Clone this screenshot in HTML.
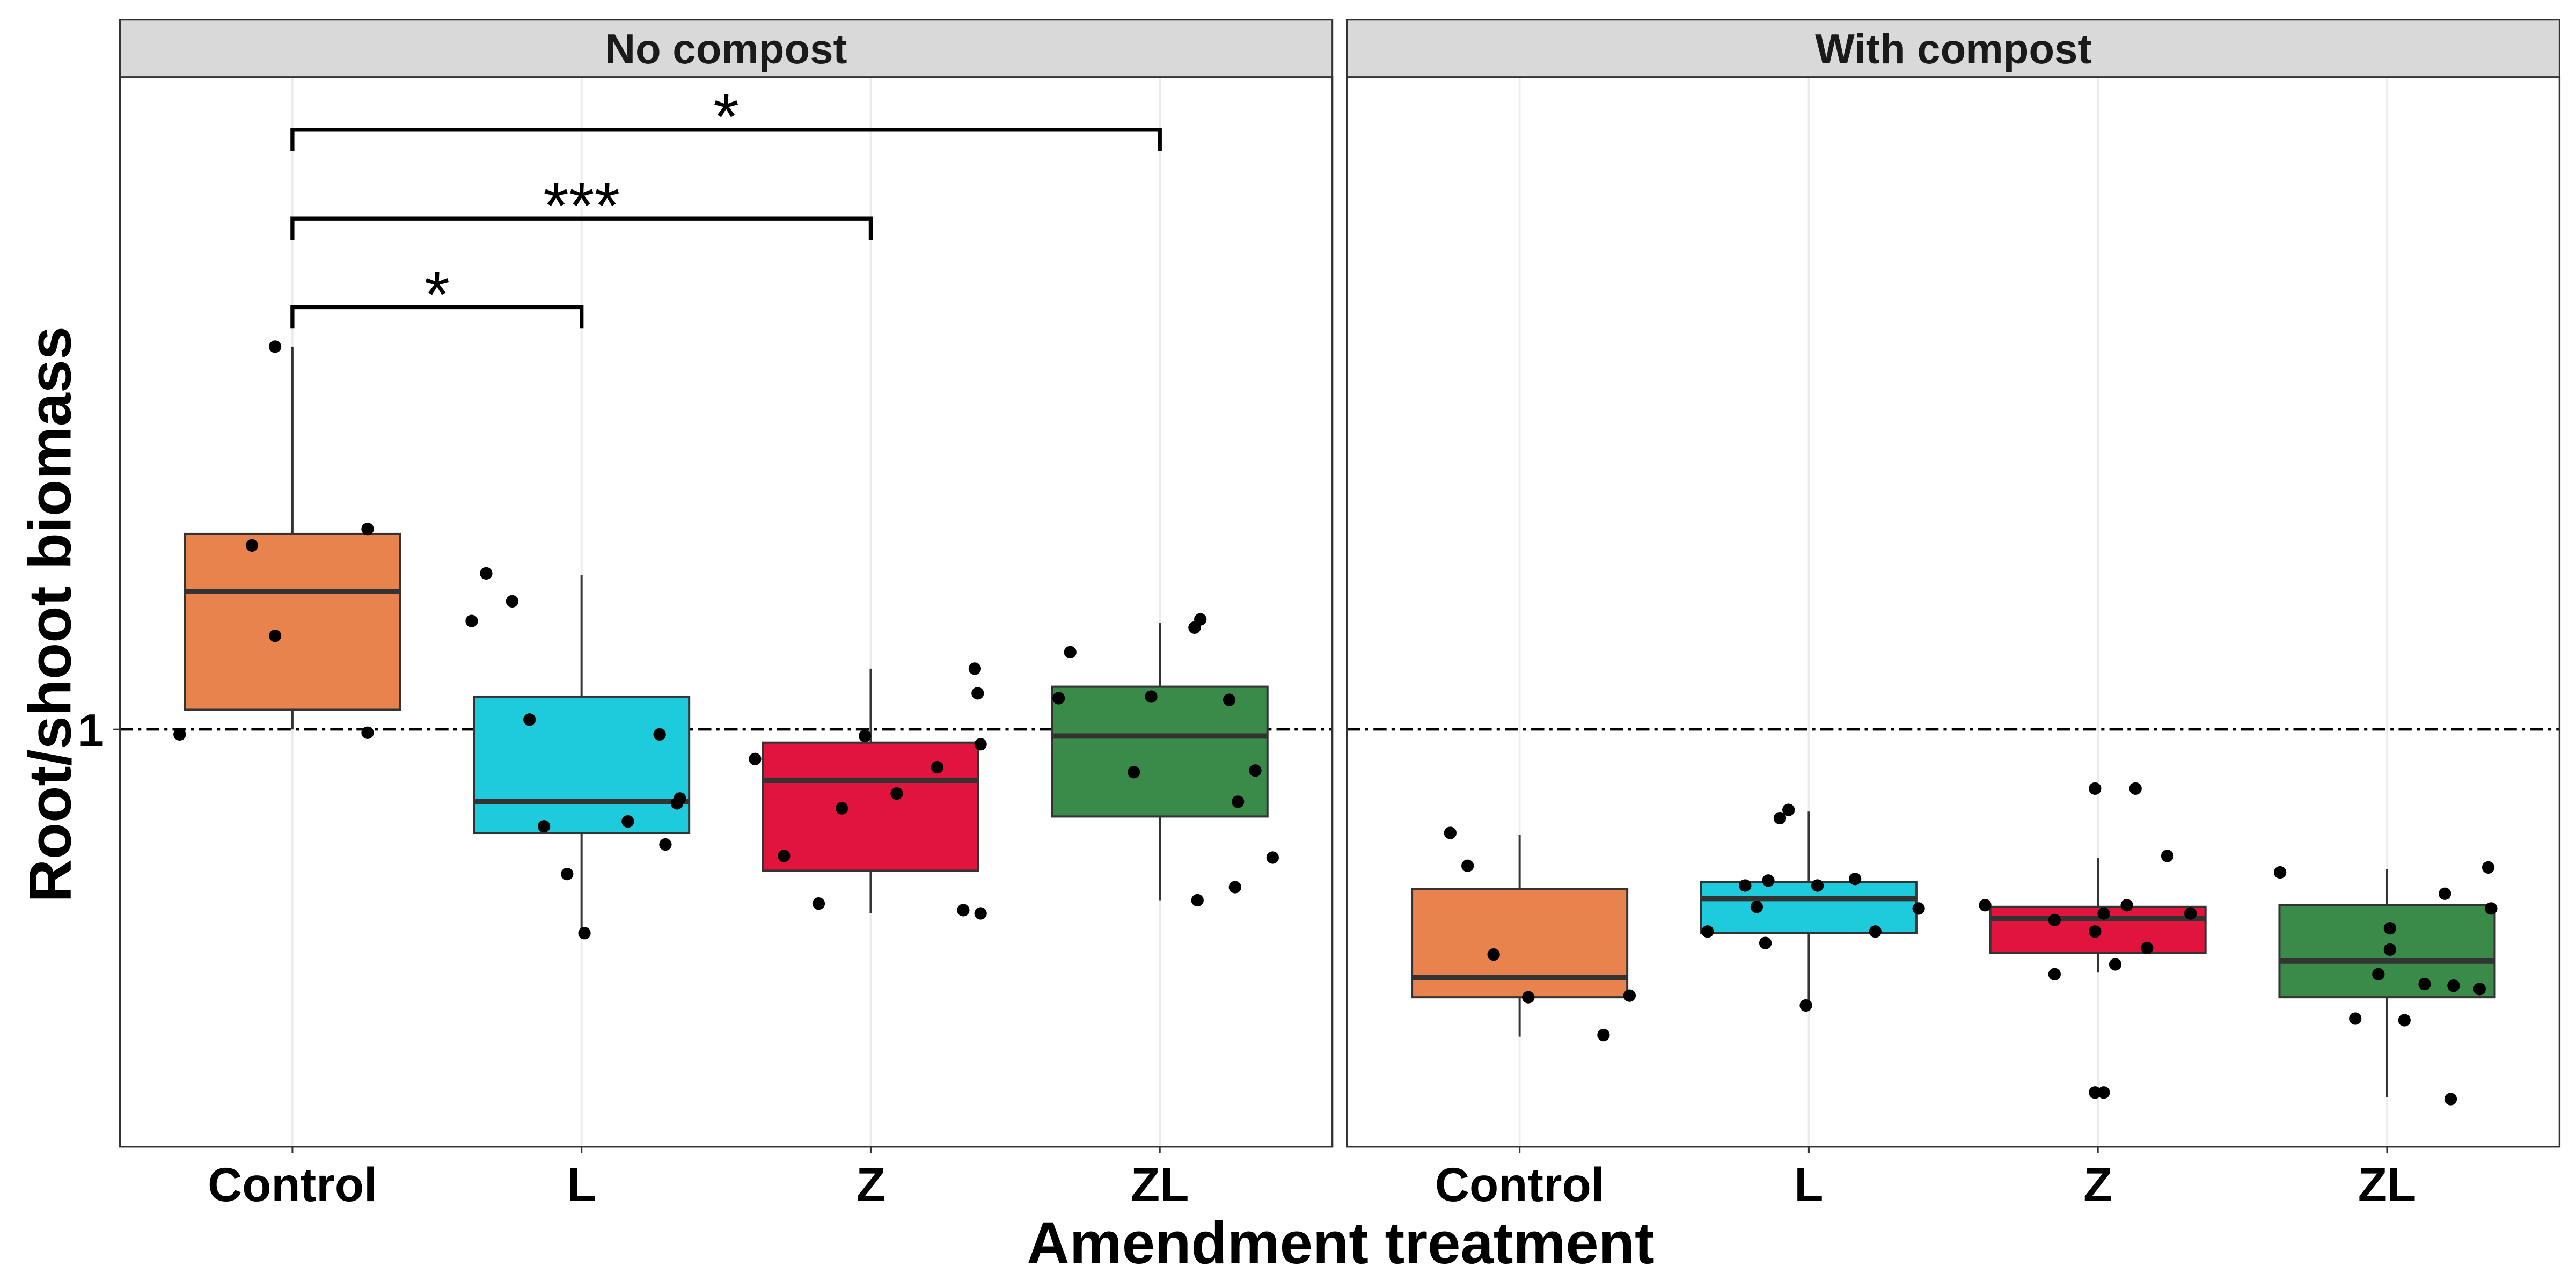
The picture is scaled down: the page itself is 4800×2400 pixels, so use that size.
<!DOCTYPE html>
<html><head><meta charset="utf-8"><style>
html,body{margin:0;padding:0;background:#fff;}
svg{display:block;font-family:"Liberation Sans",Arial,sans-serif;}
</style></head><body>
<svg id="chart" width="4800" height="2400" viewBox="0 0 1568 784" xmlns="http://www.w3.org/2000/svg">
<rect width="1568" height="784" fill="#fff"/>
<g id="g"></g>
</svg>
<script>
const categories = ["Control","L","Z","ZL"];
const panels = ["No compost","With compost"];
const yTickValues = [1];
const yTickLabels = ["1"];
const colors = ["#E8834E","#1ECBDC","#E0143C","#3A8A4A"];
// box stats [min,q1,median,q3,max] per panel per category
const statsNoCompost = [
 [1.0,1.12,1.84,2.19,3.33],
 [-0.24,0.37,0.56,1.20,1.94],
 [-0.12,0.14,0.69,0.92,1.37],
 [-0.04,0.47,0.96,1.26,1.65]
];
const statsCompost = [
 [-0.87,-0.63,-0.51,0.03,0.36],
 [-0.68,-0.24,-0.03,0.07,0.50],
 [-0.48,-0.36,-0.15,-0.08,0.22],
 [-1.24,-0.63,-0.41,-0.07,0.15]
];
// point values and jitter (category-width fraction)
const ptsNoCompost = [
 [3.33,2.12,2.22,1.57,0.97,0.98],
 [1.95,1.78,1.66,1.06,0.97,0.58,0.55,0.41,0.44,0.30,0.12,-0.24],
 [0.82,0.96,0.91,0.77,0.61,0.52,1.37,1.22,0.23,-0.06,-0.10,-0.12],
 [1.47,1.67,1.62,1.19,1.20,1.18,0.75,0.74,0.56,0.22,0.04,-0.04]
];
const jitNoCompost = [
 [-0.06,-0.14,0.26,-0.06,-0.39,0.26],
 [-0.33,-0.24,-0.38,-0.18,0.27,0.34,0.33,-0.13,0.16,0.29,-0.05,0.01],
 [-0.40,-0.02,0.38,0.23,0.09,-0.10,0.36,0.37,-0.30,-0.18,0.32,0.38],
 [-0.31,0.14,0.12,-0.35,-0.03,0.24,0.33,-0.09,0.27,0.39,0.26,0.13]
];
const ptsCompost = [
 [0.37,0.17,-0.37,-0.63,-0.62,-0.86],
 [0.51,0.46,0.05,0.08,0.05,0.09,-0.08,-0.09,-0.23,-0.30,-0.23,-0.68],
 [0.64,0.64,0.23,-0.07,-0.07,-0.12,-0.12,-0.16,-0.23,-0.33,-0.43,-0.49,-1.21,-1.21],
 [0.13,0.16,0,-0.09,-0.21,-0.34,-0.49,-0.55,-0.56,-0.58,-0.76,-0.77,-1.25]
];
const jitCompost = [
 [-0.24,-0.18,-0.09,0.03,0.38,0.29],
 [-0.07,-0.10,-0.22,-0.14,0.03,0.16,-0.18,0.38,-0.35,-0.15,0.23,-0.01],
 [-0.01,0.13,0.24,-0.39,0.10,0.02,0.32,-0.15,-0.01,0.17,0.06,-0.15,-0.01,0.02],
 [-0.37,0.35,0.20,0.36,0.01,0.01,-0.03,0.13,0.23,0.32,-0.11,0.06,0.22]
];
const sigPairs = [[0,1],[0,2],[0,3]];
const sigLevels = [3.57,4.11,4.65];
const sigLabels = ["*","***","*"];
const refValue = 1;

const NS="http://www.w3.org/2000/svg";
const g=document.getElementById('g');
function el(t,a,p){const e=document.createElementNS(NS,t);for(const k in a)e.setAttribute(k,a[k]);(p||g).appendChild(e);return e;}
const panelX=[73,820], panelW=738, topY=47, botY=698;
const step=176;
function yS(v){return 444-(v-1)*100;}
function xS(p,i){return panelX[p]+105+i*step;}
const allStats=[statsNoCompost,statsCompost], allPts=[ptsNoCompost,ptsCompost], allJit=[jitNoCompost,jitCompost];

for(let p=0;p<2;p++){
 const pg=el('g',{});
 
 
 const s=el('rect',{x:panelX[p],y:12,width:panelW,height:topY-12,fill:'#D9D9D9',stroke:'#333','stroke-width':1},pg);
 
 
 const st=el('text',{x:panelX[p]+panelW/2,y:38.5,'text-anchor':'middle','font-size':25.5,'font-weight':'bold',fill:'#1a1a1a'},pg);
 st.textContent=panels[p];
 
 
 categories.forEach((c,i)=>{
  const gl=el('line',{x1:xS(p,i),x2:xS(p,i),y1:topY,y2:botY,stroke:'#EBEBEB','stroke-width':1.2},pg);
  
  
 });
 const rl=el('line',{x1:panelX[p],x2:panelX[p]+panelW,y1:yS(refValue),y2:yS(refValue),stroke:'#000','stroke-width':1.4,'stroke-dasharray':'8,3,2,3'},pg);
 
 
 allStats[p].forEach((sv,i)=>{
  const cx=xS(p,i), hw=65.5;
  const w1=el('line',{x1:cx,x2:cx,y1:yS(sv[0]),y2:yS(sv[1]),stroke:'#333','stroke-width':1.3},pg);
  
  
  const w2=el('line',{x1:cx,x2:cx,y1:yS(sv[3]),y2:yS(sv[4]),stroke:'#333','stroke-width':1.3},pg);
  
  
  const b=el('rect',{x:cx-hw,y:yS(sv[3]),width:hw*2,height:yS(sv[1])-yS(sv[3]),fill:colors[i],stroke:'#333','stroke-width':1.3},pg);
  
  
  const m=el('line',{x1:cx-hw,x2:cx+hw,y1:yS(sv[2]),y2:yS(sv[2]),stroke:'#333','stroke-width':3.2},pg);
  
  
 });
 allPts[p].forEach((arr,i)=>{
  arr.forEach((v,j)=>{
   const c=el('circle',{cx:xS(p,i)+allJit[p][i][j]*step,cy:yS(v),r:3.8,fill:'#000'},pg);
   
   
  });
 });
 const bd=el('rect',{x:panelX[p],y:topY,width:panelW,height:botY-topY,fill:'none',stroke:'#333','stroke-width':1.1},pg);
 
 
 categories.forEach((c,i)=>{
  const tk=el('line',{x1:xS(p,i),x2:xS(p,i),y1:botY,y2:botY+4,stroke:'#333','stroke-width':1},pg);
  
  
  const t=el('text',{x:xS(p,i),y:731,'text-anchor':'middle','font-size':29,'font-weight':'bold',fill:'#000'},pg);
  t.textContent=c;
  
  
 });
}
sigPairs.forEach((pr,k)=>{
 const x1=xS(0,pr[0]), x2=xS(0,pr[1]), yy=yS(sigLevels[k]);
 const br=el('path',{d:`M${x1},${yy+13}V${yy}H${x2}V${yy+13}`,fill:'none',stroke:'#000','stroke-width':2.4});
 
 
 const t=el('text',{x:(x1+x2)/2,y:yy+6,'text-anchor':'middle','font-size':40,fill:'#000'});
 t.textContent=sigLabels[k];
 
 
});
yTickValues.forEach((v,k)=>{
 const tk=el('line',{x1:69,x2:73,y1:yS(v),y2:yS(v),stroke:'#333','stroke-width':1});
 
 
 const t=el('text',{x:63,y:yS(v)+10,'text-anchor':'end','font-size':28,'font-weight':'bold',fill:'#000'});
 t.textContent=yTickLabels[k];
 
 
});
const xt=el('text',{x:816,y:769,'text-anchor':'middle','font-size':36,'font-weight':'bold',fill:'#000'});
xt.textContent='Amendment treatment';


const yt=el('text',{x:0,y:0,'text-anchor':'middle','font-size':36.5,'font-weight':'bold',fill:'#000',transform:'translate(43,374) rotate(-90)'});
yt.textContent='Root/shoot biomass';


</script>
</body></html>
